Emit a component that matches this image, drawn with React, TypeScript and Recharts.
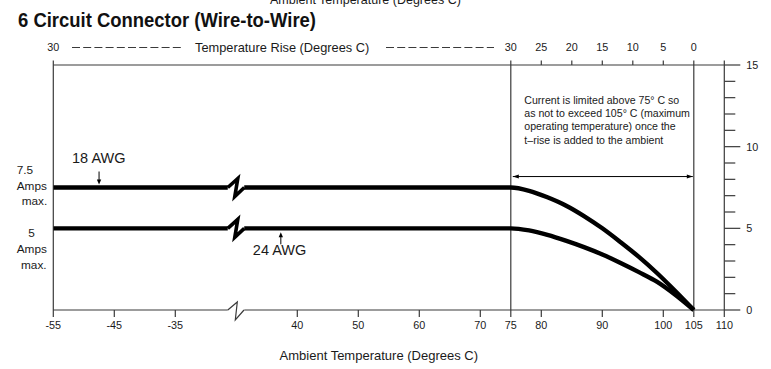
import React from 'react';
import { LineChart, Line, XAxis, YAxis, ReferenceLine, ReferenceDot } from 'recharts';

// Ambient-temperature axis is broken between -25 °C and 30 °C
const BREAK_AT = -25;
const BREAK_RESUME = 30;
const toAxis = (t: number) => (t <= BREAK_AT ? t : t - (BREAK_RESUME - BREAK_AT));

// Ambient temperature (°C)
const temps = [-55, -26.4, -25, 31.3, 75, 78, 81, 84, 87, 90, 93, 96, 99, 102, 105];
// Current (A)
const awg18 = [7.5, 7.5, null, 7.5, 7.5, 7.3, 6.9, 6.4, 5.75, 5.0, 4.15, 3.25, 2.25, 1.15, 0];
const awg24 = [5, 5, null, 5, 5, 4.87, 4.6, 4.25, 3.85, 3.4, 2.88, 2.32, 1.72, 0.92, 0];

const bottomTicks = [-55, -45, -35, 40, 50, 60, 70, 75, 80, 90, 100, 105, 110];
const topTicks = [-55, 75, 80, 85, 90, 95, 100, 105, 110];
const topTickLabels = ['30', '30', '25', '20', '15', '10', '5', '0', ''];
const ampTicks = [0, 1, 2, 3, 4, 5, 6, 7, 8, 9, 10, 11, 12, 13, 14, 15];

const noteLines = [
  'Current is limited above 75\u00b0 C so',
  'as not to exceed 105\u00b0 C (maximum',
  'operating temperature) once the',
  't\u2013rise is added to the ambient',
];

const data = temps.map((t, i) => ({ x: toAxis(t), a18: awg18[i], a24: awg24[i] }));

const bottomLabelMap = new Map(bottomTicks.map((t) => [toAxis(t), String(t)]));
const topLabelMap = new Map(topTicks.map((t, i) => [toAxis(t), topTickLabels[i]]));

const AXIS = '#3a3a3a';
const TXT = '#1a1a1a';
const FONT = '"Liberation Sans", Arial, Helvetica, sans-serif';

const AmpTick = (props: any) => {
  const { x, y, payload } = props;
  const major = payload.value % 5 === 0;
  return (
    <g>
      <line x1={x} y1={y} x2={x + (major ? 16 : 11)} y2={y} stroke={AXIS} strokeWidth={1.2} />
      {major && (
        <text x={x + 22} y={y} dy="0.36em" fontSize={10.8} fill={TXT} fontFamily={FONT}>
          {payload.value}
        </text>
      )}
    </g>
  );
};

const TopTick = (props: any) => {
  const { x, y, payload } = props;
  const label = topLabelMap.get(payload.value) ?? '';
  return (
    <g>
      <line x1={x} y1={65} x2={x} y2={60.5} stroke={AXIS} strokeWidth={1.2} />
      <text x={x} y={y} textAnchor="middle" fontSize={10.8} fill={TXT} fontFamily={FONT}>
        {label}
      </text>
    </g>
  );
};

const thickBreak = (p: any) => {
  const { cx, cy } = p;
  return (
    <path
      d={`M${cx - 8.5},${cy} L${cx + 1.5},${cy - 9} L${cx - 1.5},${cy + 9} L${cx + 8},${cy}`}
      fill="none"
      stroke="#000"
      strokeWidth={3.6}
      strokeLinejoin="miter"
    />
  );
};

const thinBreak = (p: any) => {
  const { cx, cy } = p;
  return (
    <path
      d={`M${cx - 8.5},${cy} L${cx + 1},${cy - 8} L${cx - 1},${cy + 10} L${cx + 7.7},${cy}`}
      fill="none"
      stroke={AXIS}
      strokeWidth={1.2}
    />
  );
};

const label18 = (p: any) => {
  const { cx, cy } = p;
  return (
    <g>
      <text x={cx - 27} y={cy - 25} fontSize={14.5} fill={TXT} fontFamily={FONT}>18 AWG</text>
      <line x1={cx} y1={cy - 16} x2={cx} y2={cy - 7} stroke="#000" strokeWidth={1} />
      <polygon points={`${cx - 2.2},${cy - 8} ${cx + 2.2},${cy - 8} ${cx},${cy - 3}`} fill="#000" />
    </g>
  );
};

const label24 = (p: any) => {
  const { cx, cy } = p;
  return (
    <g>
      <text x={cx - 28} y={cy + 27} fontSize={14.5} fill={TXT} fontFamily={FONT}>24 AWG</text>
      <line x1={cx} y1={cy + 16} x2={cx} y2={cy + 8} stroke="#000" strokeWidth={1} />
      <polygon points={`${cx - 2.2},${cy + 9} ${cx + 2.2},${cy + 9} ${cx},${cy + 4}`} fill="#000" />
    </g>
  );
};

const amps75 = (p: any) => {
  const { cx, cy } = p;
  return (
    <g fontSize={11.8} fill={TXT} fontFamily={FONT}>
      <text x={cx - 36.6} y={cy - 13.5}>7.5</text>
      <text x={cx - 36.6} y={cy + 2.5}>Amps</text>
      <text x={cx - 31.6} y={cy + 17.5}>max.</text>
    </g>
  );
};

const amps5 = (p: any) => {
  const { cx, cy } = p;
  return (
    <g fontSize={11.8} fill={TXT} fontFamily={FONT}>
      <text x={cx - 25} y={cy + 8.5}>5</text>
      <text x={cx - 36.6} y={cy + 24.5}>Amps</text>
      <text x={cx - 32.3} y={cy + 40.5}>max.</text>
    </g>
  );
};

const noteBox = (p: any) => {
  const { cx, cy } = p;
  return (
    <g fontSize={10.6} fill={TXT} fontFamily={FONT}>
      {noteLines.map((s, i) => (
        <text key={i} x={cx + 13.5} y={cy + 38.7 + i * 13.3}>{s}</text>
      ))}
    </g>
  );
};

const doubleArrow = (p: any) => {
  const { x1, y1, x2, y2 } = p;
  const a = x1 + 2;
  const b = x2 - 1;
  return (
    <g>
      <line x1={a} y1={y1} x2={b} y2={y2} stroke="#000" strokeWidth={1} />
      <polygon points={`${a},${y1} ${a + 6},${y1 - 2} ${a + 6},${y1 + 2}`} fill="#000" />
      <polygon points={`${b},${y2} ${b - 6},${y2 - 2} ${b - 6},${y2 + 2}`} fill="#000" />
    </g>
  );
};

export default function App() {
  return (
    <div style={{ position: 'absolute', left: 0, top: 0, width: 771, height: 369, background: '#fff' }}>
      <LineChart
        width={771}
        height={369}
        data={data}
        margin={{ top: 35, right: 0, bottom: 0, left: 53.3 }}
        style={{ fontFamily: FONT }}
      >
        <XAxis
          xAxisId="b"
          dataKey="x"
          type="number"
          domain={[toAxis(-55), toAxis(110)]}
          allowDataOverflow
          ticks={bottomTicks.map(toAxis)}
          tickFormatter={(v: number) => bottomLabelMap.get(v) ?? ''}
          interval={0}
          height={59}
          axisLine={false}
          tickSize={7}
          tickMargin={4}
          tickLine={{ stroke: AXIS, strokeWidth: 1.2 }}
          tick={{ fontSize: 10.8, fill: TXT }}
          label={{ value: 'Ambient Temperature (Degrees C)', position: 'insideBottom', offset: 9, dx: -10, fontSize: 13, fill: TXT }}
        />
        <XAxis
          xAxisId="t"
          dataKey="x"
          orientation="top"
          type="number"
          domain={[toAxis(-55), toAxis(110)]}
          allowDataOverflow
          ticks={topTicks.map(toAxis)}
          interval={0}
          height={30}
          axisLine={{ stroke: AXIS, strokeWidth: 1.2 }}
          tickSize={4}
          tickMargin={10}
          tickLine={false}
          tick={<TopTick />}
        />
        <YAxis
          yAxisId="r"
          orientation="right"
          type="number"
          domain={[0, 15]}
          ticks={ampTicks}
          interval={0}
          width={46.7}
          tickSize={0}
          tickMargin={0}
          tickLine={false}
          axisLine={{ stroke: AXIS, strokeWidth: 1.2 }}
          tick={<AmpTick />}
        />

        {/* frame: left axis, 75 °C and 105 °C verticals, broken bottom axis */}
        <ReferenceLine xAxisId="b" yAxisId="r" x={toAxis(-55)} stroke={AXIS} strokeWidth={1.2} />
        <ReferenceLine xAxisId="b" yAxisId="r" x={toAxis(75)} stroke={AXIS} strokeWidth={1.2} />
        <ReferenceLine xAxisId="b" yAxisId="r" x={toAxis(105)} stroke={AXIS} strokeWidth={1.2} />
        <ReferenceLine
          xAxisId="b"
          yAxisId="r"
          segment={[{ x: toAxis(-55), y: 0 }, { x: toAxis(-26.4), y: 0 }]}
          stroke={AXIS}
          strokeWidth={1.2}
        />
        <ReferenceLine
          xAxisId="b"
          yAxisId="r"
          segment={[{ x: toAxis(31.3), y: 0 }, { x: toAxis(110), y: 0 }]}
          stroke={AXIS}
          strokeWidth={1.2}
        />
        <ReferenceDot xAxisId="b" yAxisId="r" x={toAxis(BREAK_AT)} y={0} shape={thinBreak} ifOverflow="visible" />

        <Line
          xAxisId="b"
          yAxisId="r"
          dataKey="a18"
          type="monotone"
          stroke="#000"
          strokeWidth={4.4}
          dot={false}
          activeDot={false}
          connectNulls={false}
          isAnimationActive={false}
        />
        <Line
          xAxisId="b"
          yAxisId="r"
          dataKey="a24"
          type="monotone"
          stroke="#000"
          strokeWidth={4.4}
          dot={false}
          activeDot={false}
          connectNulls={false}
          isAnimationActive={false}
        />
        <ReferenceDot xAxisId="b" yAxisId="r" x={toAxis(BREAK_AT)} y={7.5} shape={thickBreak} ifOverflow="visible" />
        <ReferenceDot xAxisId="b" yAxisId="r" x={toAxis(BREAK_AT)} y={5} shape={thickBreak} ifOverflow="visible" />

        {/* annotations */}
        <ReferenceDot xAxisId="b" yAxisId="r" x={toAxis(-47.5)} y={7.5} shape={label18} ifOverflow="visible" />
        <ReferenceDot xAxisId="b" yAxisId="r" x={toAxis(37.3)} y={5} shape={label24} ifOverflow="visible" />
        <ReferenceDot xAxisId="b" yAxisId="r" x={toAxis(-55)} y={7.5} shape={amps75} ifOverflow="visible" />
        <ReferenceDot xAxisId="b" yAxisId="r" x={toAxis(-55)} y={5} shape={amps5} ifOverflow="visible" />
        <ReferenceDot xAxisId="b" yAxisId="r" x={toAxis(75)} y={15} shape={noteBox} ifOverflow="visible" />
        <ReferenceLine
          xAxisId="b"
          yAxisId="r"
          segment={[{ x: toAxis(75), y: 8.17 }, { x: toAxis(105), y: 8.17 }]}
          shape={doubleArrow}
          ifOverflow="visible"
        />
      </LineChart>

      <svg
        width={771}
        height={369}
        style={{ position: 'absolute', left: 0, top: 0, pointerEvents: 'none' }}
      >
        <text x={270} y={4} fontSize={12.5} fill={TXT} fontFamily={FONT}>Ambient Temperature (Degrees C)</text>
        <text
          x={18}
          y={27}
          fontSize={21}
          fontWeight="bold"
          fill="#111"
          fontFamily='"Liberation Sans Narrow", "Liberation Sans", Arial, sans-serif'
          textLength={298}
          lengthAdjust="spacingAndGlyphs"
        >
          6 Circuit Connector (Wire-to-Wire)
        </text>
        <line x1={72} y1={47.5} x2={183} y2={47.5} stroke={AXIS} strokeWidth={1} strokeDasharray="8 3.2" />
        <text x={195} y={52} fontSize={12.8} fill={TXT} fontFamily={FONT}>Temperature Rise (Degrees C)</text>
        <line x1={386} y1={47.5} x2={494} y2={47.5} stroke={AXIS} strokeWidth={1} strokeDasharray="8 3.2" />
      </svg>
    </div>
  );
}
